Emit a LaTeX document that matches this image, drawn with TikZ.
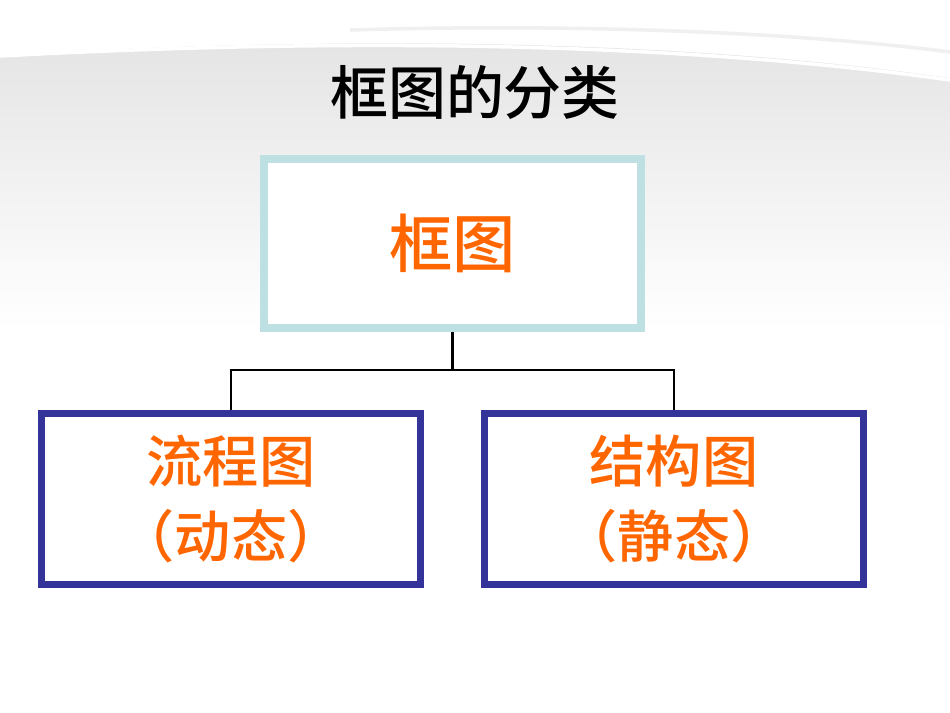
\documentclass[tikz,border=0pt]{standalone}
\usepackage{fontspec}
\newfontfamily\cjk{Noto Sans CJK SC}
\newfontfamily\cjkb{Noto Sans CJK SC Medium}
\definecolor{topline}{HTML}{BEE0E3}
\definecolor{navy}{HTML}{333399}
\definecolor{orng}{HTML}{FF6600}
\definecolor{bgg}{HTML}{E4E4E4}
\begin{document}
\begin{tikzpicture}[x=0.02cm,y=-0.02cm,
  topbox/.style={draw=topline,line width=4.5pt,fill=white,minimum width=377*0.02cm,minimum height=169*0.02cm,inner sep=0pt},
  subbox/.style={draw=navy,line width=4pt,fill=white,minimum width=379*0.02cm,minimum height=171*0.02cm,inner sep=0pt,align=center},
  lbl/.style={text=orng,font=\cjkb\fontsize{32pt}{40pt}\selectfont},
  conn/.style={line width=1.2pt,black}]
\useasboundingbox (0,0) rectangle (950,713);
\fill[white] (0,0) rectangle (950,713);
% background band
\shade[top color=bgg,bottom color=white]
  (0,55) .. controls (300,38) and (650,35) .. (950,78) -- (950,330) -- (0,330) -- cycle;
\fill[white] (0,330) rectangle (950,713);
% swooshes
\draw[white,line width=2pt] (0,56) .. controls (300,40) and (650,38) .. (950,80);
\draw[gray!12,line width=2pt] (350,30) .. controls (550,24) and (780,30) .. (950,52);
\draw[white,line width=1pt] (800,0) .. controls (860,15) and (910,30) .. (950,45);
\draw[white,line width=1pt] (850,0) .. controls (890,12) and (925,22) .. (950,30);
\draw[white,line width=1pt] (700,0) .. controls (800,12) and (900,28) .. (950,40);
% title
\node (title) at (475,92) {\cjkb\fontsize{33pt}{40pt}\selectfont 框图的分类};
% boxes
\node[topbox] (top) at (452.5,243.5) {};
\node[lbl,font=\cjkb\fontsize{36pt}{40pt}\selectfont] (toplbl) at (top.center) {框图};
\node[subbox,lbl] (left) at (231,499) {流程图\\[3pt]（动态）};
\node[subbox,lbl] (right) at (674,499) {结构图\\[3pt]（静态）};
% connectors
\coordinate (mid) at (452.5,370);
\draw[conn] (top.south) -- (mid);
\draw[conn] (left.north) |- (mid) -| (right.north);
\end{tikzpicture}
\end{document}
